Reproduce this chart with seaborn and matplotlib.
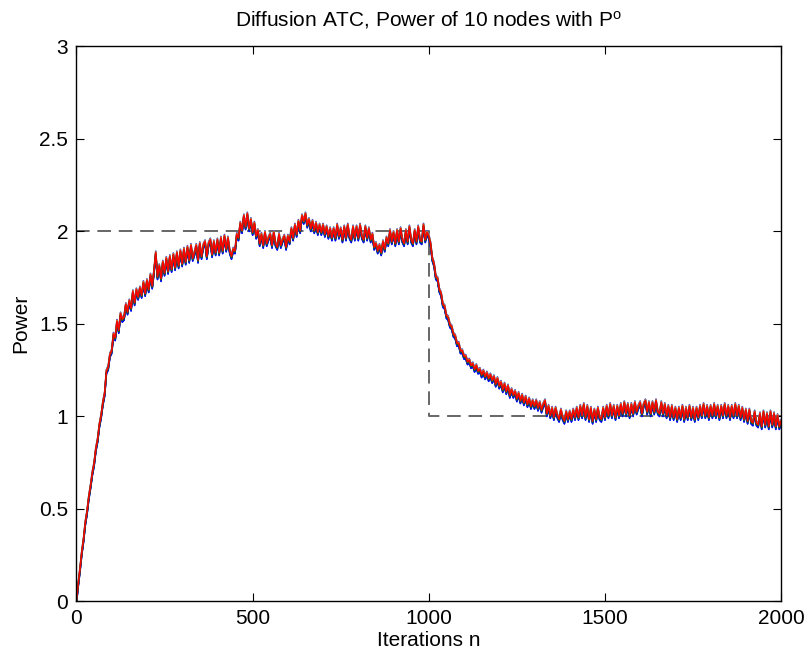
import numpy as np
import pandas as pd
import matplotlib
matplotlib.use("Agg")
import matplotlib.pyplot as plt
import seaborn as sns

# Iterations sampled every 5 steps (0..2000)
iterations = list(range(0, 2001, 5))

# Network power (one row = 100 iterations)
power_avg = [
    0.00, 0.09, 0.17, 0.26, 0.33, 0.42, 0.48, 0.56, 0.62, 0.69, 0.74, 0.82, 0.87, 0.95, 1.00, 1.07, 1.12, 1.24, 1.26, 1.33,
    1.35, 1.44, 1.42, 1.51, 1.46, 1.55, 1.52, 1.53, 1.60, 1.56, 1.62, 1.58, 1.67, 1.61, 1.68, 1.64, 1.69, 1.65, 1.72, 1.66,
    1.73, 1.68, 1.76, 1.70, 1.78, 1.88, 1.75, 1.81, 1.74, 1.83, 1.77, 1.85, 1.78, 1.86, 1.79, 1.87, 1.80, 1.88, 1.81, 1.89,
    1.82, 1.90, 1.83, 1.91, 1.84, 1.92, 1.85, 1.88, 1.92, 1.84, 1.93, 1.86, 1.92, 1.94, 1.86, 1.93, 1.95, 1.87, 1.94, 1.88,
    1.95, 1.88, 1.96, 1.89, 1.97, 1.90, 1.96, 1.89, 1.86, 1.90, 1.89, 1.98, 1.96, 2.04, 2.00, 2.08, 2.02, 2.09, 2.01, 2.06,
    1.99, 2.04, 1.97, 2.00, 1.93, 1.98, 1.92, 1.99, 1.93, 1.96, 1.98, 1.92, 1.99, 1.93, 1.91, 1.98, 1.92, 1.95, 1.97, 1.91,
    1.97, 1.94, 2.01, 1.96, 2.03, 1.98, 2.05, 2.00, 2.08, 2.05, 2.09, 2.03, 2.06, 2.01, 2.05, 2.00, 2.04, 1.99, 2.03, 1.99,
    2.03, 1.98, 2.02, 1.97, 2.01, 1.96, 2.01, 1.96, 2.03, 1.97, 2.01, 1.95, 2.02, 1.96, 2.03, 1.97, 1.95, 2.02, 1.96, 2.02,
    1.96, 2.03, 1.97, 1.95, 2.02, 1.96, 2.01, 1.95, 1.98, 1.91, 1.93, 1.89, 1.92, 1.88, 1.94, 1.90, 1.96, 1.93, 2.00, 1.94,
    1.99, 1.93, 2.00, 1.94, 2.01, 1.95, 1.93, 2.00, 1.94, 2.02, 1.95, 1.93, 2.00, 1.94, 2.02, 1.95, 1.94, 2.03, 1.95, 1.99,
    1.97, 1.93, 1.85, 1.82, 1.75, 1.74, 1.68, 1.66, 1.60, 1.59, 1.54, 1.53, 1.49, 1.48, 1.44, 1.43, 1.39, 1.39, 1.35, 1.35,
    1.32, 1.32, 1.29, 1.30, 1.27, 1.28, 1.25, 1.27, 1.24, 1.25, 1.22, 1.24, 1.21, 1.23, 1.20, 1.22, 1.19, 1.21, 1.17, 1.20,
    1.16, 1.18, 1.14, 1.17, 1.13, 1.16, 1.11, 1.14, 1.11, 1.13, 1.09, 1.12, 1.08, 1.11, 1.07, 1.10, 1.06, 1.09, 1.05, 1.08,
    1.05, 1.08, 1.04, 1.07, 1.03, 1.06, 1.08, 1.01, 1.05, 1.00, 1.04, 0.99, 1.04, 1.00, 0.98, 1.03, 0.99, 0.97, 1.02, 0.98,
    1.02, 0.98, 1.03, 0.99, 1.04, 0.99, 1.05, 1.00, 1.06, 0.99, 1.05, 0.98, 1.04, 0.97, 1.03, 0.98, 1.04, 0.99, 0.98, 1.04,
    0.99, 1.05, 1.00, 1.06, 1.00, 1.05, 0.99, 1.05, 1.00, 1.06, 1.01, 1.07, 1.01, 1.06, 1.00, 1.06, 1.01, 1.07, 1.02, 1.05,
    1.07, 1.01, 1.06, 1.08, 1.02, 1.07, 1.01, 1.07, 1.02, 1.08, 1.02, 1.01, 1.07, 1.01, 1.06, 1.00, 1.05, 0.99, 1.05, 0.99,
    1.04, 0.98, 1.04, 0.99, 1.05, 0.98, 1.04, 0.99, 1.05, 0.99, 1.04, 0.98, 1.04, 0.99, 1.05, 1.00, 1.06, 1.00, 1.05, 0.99,
    1.05, 1.00, 1.06, 1.00, 1.05, 0.99, 1.05, 1.00, 1.06, 1.00, 1.05, 0.99, 1.05, 1.00, 1.06, 1.00, 1.05, 0.99, 1.04, 0.98,
    1.03, 0.97, 1.03, 0.97, 0.96, 1.02, 0.96, 0.95, 1.01, 0.94, 1.02, 0.95, 1.01, 0.94, 1.02, 0.95, 1.01, 0.94, 1.00, 0.94,
    0.97,
]

node_names = ["1", "2", "3", "4", "5", "6", "7", "8", "9", "10"]
node_offsets = [-0.013, -0.008, 0.000, 0.012, 0.010, 0.006, -0.004, -0.011, -0.003, 0.003]
node_colors = [(0, 0, 1), (0, 0.5, 0), (1, 0, 0), (0, 0.75, 0.75), (0.75, 0, 0.75),
               (0.75, 0.75, 0), (0.25, 0.25, 0.25), (0, 0, 1), (0, 0.5, 0), (1, 0, 0)]

# Reference power P^o
ref_n = [0, 1000, 1000, 2000]
ref_p = [2, 2, 1, 1]

x_ticks = [0, 500, 1000, 1500, 2000]
y_ticks = [0, 0.5, 1, 1.5, 2, 2.5, 3]
y_tick_labels = ["0", "0.5", "1", "1.5", "2", "2.5", "3"]

sns.set_theme(style="white")
plt.rcParams["font.family"] = ["Liberation Sans", "DejaVu Sans"]
plt.rcParams["mathtext.fontset"] = "custom"
plt.rcParams["mathtext.rm"] = "Liberation Sans"
plt.rcParams["mathtext.it"] = "Liberation Sans:italic"
plt.rcParams["text.color"] = "black"
plt.rcParams["axes.labelcolor"] = "black"

rows = []
for name, off in zip(node_names, node_offsets):
    for n, p in zip(iterations, power_avg):
        rows.append((n, p + off, name))
df = pd.DataFrame(rows, columns=["n", "power", "node"])

fig = plt.figure(figsize=(8.11, 6.62), dpi=100)
ax = fig.add_axes([0.0943, 0.0921, 0.8688, 0.8384])

sns.lineplot(data=df, x="n", y="power", hue="node", hue_order=node_names,
             palette=node_colors, estimator=None, sort=False, linewidth=1.1,
             legend=False, ax=ax)

ref_df = pd.DataFrame({"n": ref_n, "p": ref_p})
sns.lineplot(data=ref_df, x="n", y="p", sort=False, estimator=None,
             color=(0.4, 0.4, 0.4), linewidth=1.4, ax=ax,
             linestyle=(0, (7, 4)), zorder=0)

ax.set_xlim(0, 2000)
ax.set_ylim(0, 3)
ax.set_xticks(x_ticks)
ax.set_xticklabels([str(t) for t in x_ticks])
ax.set_yticks(y_ticks)
ax.set_yticklabels(y_tick_labels)
ax.tick_params(direction="in", length=6, width=0.8, labelsize=15, top=True, right=True,
               bottom=True, left=True, colors="black", pad=6)
for s in ax.spines.values():
    s.set_color("black")
    s.set_linewidth(1.0)

ax.set_xlabel("Iterations n", fontsize=15, labelpad=2, color="black")
ax.set_ylabel("Power", fontsize=15, labelpad=6, color="black")
ax.set_title(r"Diffusion ATC, Power of 10 nodes with P$^{\rm o}$", fontsize=15, pad=14, color="black")

fig.savefig("out.png", dpi=100)
